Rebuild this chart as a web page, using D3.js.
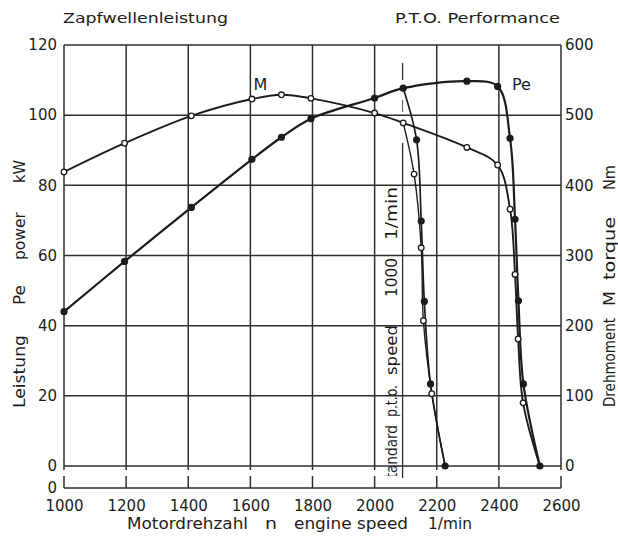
<!DOCTYPE html>
<html>
<head>
<meta charset="utf-8">
<script src="https://cdn.jsdelivr.net/npm/d3@7"></script>
<style>
  body { margin: 0; background: #fff; }
  svg { display: block; }
  text { font-family: "DejaVu Sans", sans-serif; fill: #1c1c1c; }
</style>
</head>
<body>
<div id="main"></div>
<script>
// engine speed (1/min) with power Pe (kW) and torque M (Nm) on the full-load curve
const fullRpm = [1000, 1195, 1410, 1605, 1700, 1795, 2000, 2092, 2297, 2396]
const fullPe = [44, 58.3, 73.7, 87.4, 93.7, 99, 104.9, 107.7, 109.7, 108.2]
const fullM = [419, 460, 499, 523, 529, 524, 503, 489, 454, 429]

// governor run-out at standard p.t.o. speed
const gov1PeRpm = [2092, 2135, 2150, 2160, 2180, 2227]
const gov1Pe = [107.7, 93, 69.8, 46.9, 23.4, 0]
const gov1MRpm = [2092, 2127, 2150, 2157, 2184, 2227]
const gov1M = [489, 416, 311, 207, 103, 0]

// governor run-out from rated speed
const gov2PeRpm = [2396, 2436, 2452, 2463, 2479, 2532]
const gov2Pe = [108.2, 93.4, 70.3, 47.1, 23.4, 0]
const gov2MRpm = [2396, 2436, 2452, 2462, 2478, 2532]
const gov2M = [429, 366, 273, 181, 90, 0]

const rpmTicks = [1000, 1200, 1400, 1600, 1800, 2000, 2200, 2400, 2600]
const powerTicks = [0, 20, 40, 60, 80, 100, 120]
const torqueTicks = [0, 100, 200, 300, 400, 500, 600]
const ptoRpm = 2090

const zip = (xs, ys) => xs.map((v, i) => ({x: v, y: ys[i]}))

const svg = d3.select('div#main').append('svg')
  .attr('width', 618)
  .attr('height', 538)

const x = d3.scaleLinear().domain([1000, 2600]).range([64, 561])
const yP = d3.scaleLinear().domain([0, 120]).range([466, 45])
const yM = d3.scaleLinear().domain([0, 600]).range([466, 45])

const ink = '#1c1c1c'
const gridCol = '#2e2e2e'
const baseY = 488

// grid
const grid = svg.append('g').attr('stroke', gridCol).attr('stroke-width', 1.5)
grid.selectAll('line.h')
  .data(powerTicks)
  .enter().append('line')
    .attr('x1', x(1000)).attr('x2', x(2600))
    .attr('y1', d => yP(d)).attr('y2', d => yP(d))
grid.selectAll('line.v')
  .data(rpmTicks)
  .enter().append('line')
    .attr('x1', d => x(d)).attr('x2', d => x(d))
    .attr('y1', yP(120)).attr('y2', yP(0) + 4)
grid.selectAll('line.t')
  .data(rpmTicks)
  .enter().append('line')
    .attr('x1', d => x(d)).attr('x2', d => x(d))
    .attr('y1', baseY - 12).attr('y2', baseY)
grid.append('line')
  .attr('x1', x(1000)).attr('x2', x(2600))
  .attr('y1', baseY).attr('y2', baseY)

// standard p.t.o. speed marker
const pto = svg.append('g').attr('stroke', gridCol).attr('stroke-width', 1.3)
pto.append('line').attr('x1', x(ptoRpm)).attr('x2', x(ptoRpm)).attr('y1', 63).attr('y2', 80)
pto.append('line').attr('x1', x(ptoRpm)).attr('x2', x(ptoRpm)).attr('y1', 100).attr('y2', 112).attr('stroke-width', 0.8)
pto.append('line').attr('x1', x(ptoRpm)).attr('x2', x(ptoRpm)).attr('y1', 143).attr('y2', 478)

svg.append('clipPath').attr('id', 'ptoclip')
  .append('rect').attr('x', 370).attr('y', 150).attr('width', 40).attr('height', 326)

const ptoText = [
  {t: 'Standard', c: 456, len: 62},
  {t: 'p.t.o.', c: 401, len: 32},
  {t: 'speed', c: 350, len: 50},
  {t: '1000', c: 277.5, len: 39},
  {t: '1/min', c: 213.5, len: 53}
]
svg.append('g').attr('clip-path', 'url(#ptoclip)')
  .selectAll('text')
  .data(ptoText)
  .enter().append('text')
    .attr('transform', d => `translate(397,${d.c}) rotate(-90)`)
    .attr('text-anchor', 'middle')
    .attr('font-size', 16)
    .attr('textLength', d => d.len)
    .attr('lengthAdjust', 'spacingAndGlyphs')
    .text(d => d.t)

// curves
const line = d3.line()
  .x(d => x(d.x))
  .curve(d3.curveCatmullRom.alpha(0.5))

const peFull = zip(fullRpm, fullPe).concat(zip(gov2PeRpm, gov2Pe).slice(1))
const peGov = zip(gov1PeRpm, gov1Pe)
const mFull = zip(fullRpm, fullM).concat(zip(gov2MRpm, gov2M).slice(1))
const mGov = zip(gov1MRpm, gov1M)

const curves = svg.append('g')
  .attr('fill', 'none')
  .attr('stroke', ink)
  .attr('stroke-width', 2.2)
curves.append('path').attr('d', line.y(d => yP(d.y))(peFull))
curves.append('path').attr('d', line.y(d => yP(d.y))(peGov)).attr('stroke-width', 1.7)
curves.append('path').attr('d', line.y(d => yM(d.y))(mFull)).attr('stroke-width', 1.9)
curves.append('path').attr('d', line.y(d => yM(d.y))(mGov)).attr('stroke-width', 1.4)

// markers
const mPts = mFull.concat(mGov.slice(1)).filter(d => d.y > 0)
svg.append('g').selectAll('circle')
  .data(mPts)
  .enter().append('circle')
    .attr('cx', d => x(d.x))
    .attr('cy', d => yM(d.y))
    .attr('r', 2.8)
    .attr('fill', '#fff')
    .attr('stroke', ink)
    .attr('stroke-width', 1.3)

const pePts = peFull.concat(peGov.slice(1))
svg.append('g').selectAll('circle')
  .data(pePts)
  .enter().append('circle')
    .attr('cx', d => x(d.x))
    .attr('cy', d => yP(d.y))
    .attr('r', 3.6)
    .attr('fill', ink)

svg.append('text').attr('x', x(1610)).attr('y', yP(107.3))
  .attr('font-size', 16).text('M')
svg.append('text').attr('x', x(2442)).attr('y', yP(107.3))
  .attr('font-size', 16).text('Pe')

// axes labels
const styleAxis = g => {
  g.select('.domain').remove()
  g.selectAll('text')
    .attr('font-family', '"DejaVu Sans Condensed", "DejaVu Sans", sans-serif')
    .attr('font-size', 15)
    .attr('fill', ink)
}
svg.append('g')
  .attr('transform', 'translate(57,0)')
  .call(d3.axisLeft(yP).tickValues(powerTicks).tickSize(0).tickPadding(0))
  .call(styleAxis)
svg.append('g')
  .attr('transform', 'translate(565,0)')
  .call(d3.axisRight(yM).tickValues(torqueTicks).tickSize(0).tickPadding(0))
  .call(styleAxis)
svg.append('g')
  .attr('transform', 'translate(0,500)')
  .call(d3.axisBottom(x).tickValues(rpmTicks).tickSize(0).tickPadding(0).tickFormat(d3.format('d')))
  .call(styleAxis)
svg.append('text')
  .attr('x', 57).attr('y', baseY + 5)
  .attr('text-anchor', 'end')
  .attr('font-family', '"DejaVu Sans Condensed", "DejaVu Sans", sans-serif')
  .attr('font-size', 15)
  .text('0')

// titles
const leftTitle = [
  {t: 'Leistung', c: 371.5, len: 73},
  {t: 'Pe', c: 295, len: 20},
  {t: 'power', c: 236, len: 48},
  {t: 'kW', c: 171.5, len: 23}
]
const rightTitle = [
  {t: 'Drehmoment', c: 362.5, len: 89},
  {t: 'M', c: 298.5, len: 15},
  {t: 'torque', c: 248.5, len: 63},
  {t: 'Nm', c: 177.5, len: 25}
]
const bottomTitle = [
  {t: 'Motordrehzahl', c: 187.5, len: 121},
  {t: 'n', c: 271, len: 12},
  {t: 'engine speed', c: 351, len: 114},
  {t: '1/min', c: 450, len: 44}
]
const vertTitle = (data, bx) => svg.append('g').selectAll('text')
  .data(data)
  .enter().append('text')
    .attr('transform', d => `translate(${bx},${d.c}) rotate(-90)`)
    .attr('text-anchor', 'middle')
    .attr('font-size', 15)
    .attr('textLength', d => d.len)
    .attr('lengthAdjust', 'spacingAndGlyphs')
    .text(d => d.t)
vertTitle(leftTitle, 25)
vertTitle(rightTitle, 615)
svg.append('g').selectAll('text')
  .data(bottomTitle)
  .enter().append('text')
    .attr('x', d => d.c)
    .attr('y', 529)
    .attr('text-anchor', 'middle')
    .attr('font-size', 15)
    .attr('textLength', d => d.len)
    .attr('lengthAdjust', 'spacingAndGlyphs')
    .text(d => d.t)

const headers = [
  {t: 'Zapfwellenleistung', x: 63},
  {t: 'P.T.O. Performance', x: 395}
]
svg.append('g').selectAll('text')
  .data(headers)
  .enter().append('text')
    .attr('x', d => d.x)
    .attr('y', 23)
    .attr('font-family', '"Liberation Mono", "Courier New", monospace')
    .attr('font-size', 14)
    .attr('textLength', 165)
    .attr('lengthAdjust', 'spacingAndGlyphs')
    .text(d => d.t)
</script>
</body>
</html>
